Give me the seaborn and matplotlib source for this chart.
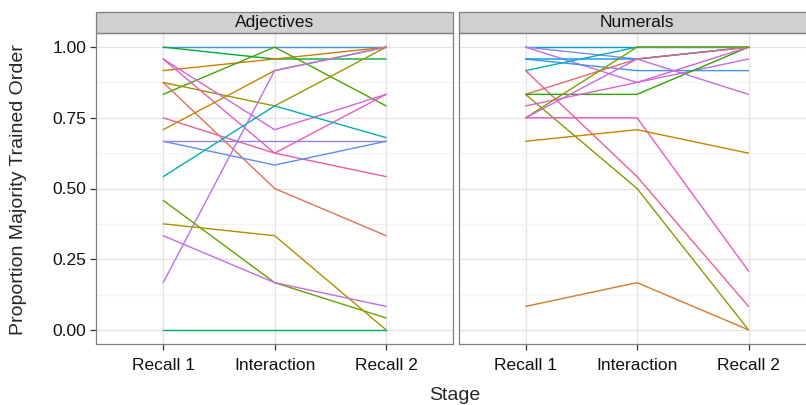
import numpy as np
import pandas as pd
import seaborn as sns
import matplotlib.pyplot as plt
from matplotlib.patches import Rectangle

# Datos
stages = ['Recall 1', 'Interaction', 'Recall 2']
tasks = ['Adjectives', 'Numerals']

adj_recall1 = [1.000, 1.000, 0.917, 0.833, 0.875, 0.958, 0.958, 0.875, 0.750,
               0.708, 0.542, 0.667, 0.667, 0.167, 0.458, 0.375, 0.333, 0.000]
adj_interaction = [1.000, 0.958, 0.958, 1.000, 0.792, 0.708, 0.625, 0.500, 0.625,
                   0.917, 0.792, 0.583, 0.667, 0.917, 0.167, 0.333, 0.167, 0.000]
adj_recall2 = [1.000, 0.958, 1.000, 0.792, 1.000, 0.833, 0.833, 0.333, 0.542,
               1.000, 0.680, 0.667, 0.667, 1.000, 0.042, 0.000, 0.083, 0.000]

num_recall1 = [1.000, 1.000, 1.000, 0.958, 0.958, 0.917, 0.917, 0.833,
               0.833, 0.833, 0.792, 0.750, 0.750, 0.750, 0.667, 0.083]
num_interaction = [1.000, 0.958, 0.875, 0.917, 0.958, 1.000, 0.542, 0.958,
                   0.833, 0.500, 0.875, 1.000, 0.958, 0.750, 0.708, 0.167]
num_recall2 = [1.000, 1.000, 0.958, 0.917, 1.000, 1.000, 0.083, 1.000,
               1.000, 0.000, 1.000, 1.000, 0.833, 0.208, 0.625, 0.000]

# Tono (HCL) de cada participante
adj_hues = [250, 135, 40, 120, 85, 300, 330, 20, 345, 55, 195, 255, 270, 285, 110, 70, 295, 150]
num_hues = [240, 265, 290, 250, 245, 195, 350, 15, 125, 95, 310, 100, 295, 325, 50, 35]


def hcl(h, c=90, l=60):
    # Convertir HCL (polar Luv) a color hex, como ggplot
    h = np.deg2rad(h)
    u, v = c * np.cos(h), c * np.sin(h)
    Xn, Yn, Zn = 95.047, 100.0, 108.883
    un = 4 * Xn / (Xn + 15 * Yn + 3 * Zn)
    vn = 9 * Yn / (Xn + 15 * Yn + 3 * Zn)
    Y = Yn * ((l + 16) / 116) ** 3
    up = u / (13 * l) + un
    vp = v / (13 * l) + vn
    X = Y * 9 * up / (4 * vp)
    Z = Y * (12 - 3 * up - 20 * vp) / (4 * vp)
    m = np.array([[3.2406, -1.5372, -0.4986],
                  [-0.9689, 1.8758, 0.0415],
                  [0.0557, -0.2040, 1.0570]])
    rgb = m @ (np.array([X, Y, Z]) / 100)
    rgb = np.where(rgb <= 0.0031308, 12.92 * rgb, 1.055 * np.clip(rgb, 0, None) ** (1 / 2.4) - 0.055)
    rgb = np.clip(rgb, 0, 1)
    return '#%02x%02x%02x' % tuple(int(round(x * 255)) for x in rgb)


# Construir tabla larga
rows = []
palette = {}
series = {
    'Adjectives': (adj_recall1, adj_interaction, adj_recall2, adj_hues),
    'Numerals': (num_recall1, num_interaction, num_recall2, num_hues),
}
for task, (r1, it, r2, hues) in series.items():
    for i in range(len(r1)):
        pid = f'{task[:3]}{i}'
        palette[pid] = hcl(hues[i])
        for st, val in zip(stages, [r1[i], it[i], r2[i]]):
            rows.append({'Task': task, 'pid': pid, 'Stage': st, 'Value': val})
df = pd.DataFrame(rows)

sns.set_style('white')
plt.rcParams['font.family'] = ['Liberation Sans', 'DejaVu Sans']

fig = plt.figure(figsize=(8.06, 4.05), dpi=100)
W, H = 806, 405
top, bottom = 33, 344
lefts = [96.3, 458.7]
pw = 356.7
axes = [fig.add_axes([l / W, (H - bottom) / H, pw / W, (bottom - top) / H]) for l in lefts]

for ax, task in zip(axes, tasks):
    d = df[df['Task'] == task]
    sns.lineplot(data=d, x='Stage', y='Value', hue='pid', palette=palette,
                 legend=False, sort=False, estimator=None, ax=ax, lw=1.0, zorder=3)
    ax.set_xlim(-0.6, 2.6)
    ax.set_ylim(-0.05, 1.05)
    ax.set_yticks([0, 0.25, 0.5, 0.75, 1.0])
    ax.set_yticks([0.125, 0.375, 0.625, 0.875], minor=True)
    ax.grid(True, which='major', color='#e3e3e3', lw=0.9, zorder=0)
    ax.grid(True, which='minor', axis='y', color='#f3f3f3', lw=0.9, zorder=0)
    ax.set_axisbelow(True)
    for s in ax.spines.values():
        s.set_color('#7f7f7f')
        s.set_linewidth(0.9)
    ax.tick_params(axis='both', which='major', direction='out', length=4, width=0.9,
                   color='#333333', labelsize=12.5, labelcolor='#111111', pad=3,
                   bottom=True, left=True)
    ax.tick_params(axis='x', pad=6)
    ax.tick_params(which='minor', length=0)
    ax.set_xlabel('')
    ax.set_ylabel('')
    # Encabezado del panel
    sh = 21 / (bottom - top)
    ax.add_patch(Rectangle((0, 1), 1, sh, transform=ax.transAxes, clip_on=False,
                           facecolor='#d0d0d0', edgecolor='#7f7f7f', lw=0.9))
    ax.text(0.5, 1 + sh / 2, task, transform=ax.transAxes, ha='center', va='center',
            fontsize=12.5, color='#111111')

axes[0].set_yticklabels(['0.00', '0.25', '0.50', '0.75', '1.00'])
axes[1].tick_params(axis='y', left=False, labelleft=False)

fig.text(455 / W, 1 - 396 / H, 'Stage', ha='center', va='center', fontsize=14)
fig.text(19 / W, 1 - 190 / H, 'Proportion Majority Trained Order', ha='center', va='center',
         rotation=90, fontsize=14)

fig.savefig('out.png', dpi=100)
